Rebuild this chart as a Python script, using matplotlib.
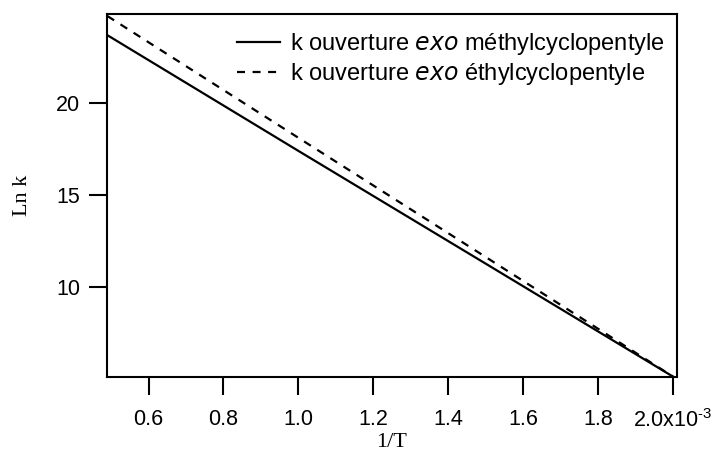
import numpy as np
import matplotlib.pyplot as plt

plt.rcParams['font.family'] = ['Liberation Sans', 'DejaVu Sans']
plt.rcParams['mathtext.default'] = 'regular'

# 1/T (K^-1) et ln k
inv_T = [0.49e-3, 1.0e-3, 1.5e-3, 2.0e-3]
ln_k_methyl = [23.68, 17.40, 11.28, 5.15]
ln_k_ethyl = [24.72, 18.11, 11.64, 5.15]

xticks = [0.6e-3, 0.8e-3, 1.0e-3, 1.2e-3, 1.4e-3, 1.6e-3, 1.8e-3, 2.0e-3]
xticklabels = ['0.6', '0.8', '1.0', '1.2', '1.4', '1.6', '1.8', '2.0x10$^{\u20103}$']
yticks = [10, 15, 20]

fig = plt.figure(figsize=(7.17, 4.54), dpi=100)
ax = fig.add_axes([0.1492, 0.1696, 0.795, 0.7996])

ax.plot(inv_T, ln_k_methyl, color='black', lw=1.6,
        label='k ouverture $\\it{exo}$ méthylcyclopentyle')
ax.plot(inv_T, ln_k_ethyl, color='black', lw=1.6, linestyle=(0, (3.6, 3.4)),
        label='k ouverture $\\it{exo}$ éthylcyclopentyle')

ax.set_xlim(0.489e-3, 2.0106e-3)
ax.set_ylim(5.13, 24.83)
ax.set_xticks(xticks)
ax.set_xticklabels(xticklabels)
ax.set_yticks(yticks)
ax.tick_params(direction='out', length=13, width=1.5, labelsize=15.5, pad=6.5)
ax.tick_params(axis='x', pad=10)
for s in ax.spines.values():
    s.set_linewidth(1.5)

ax.set_xlabel('1/T', family='Liberation Serif', fontsize=16, labelpad=0.5)
ax.set_ylabel('Ln k', family='Liberation Serif', fontsize=16, labelpad=17)

ax.legend(loc='upper right', bbox_to_anchor=(1.0, 0.985), frameon=False,
          fontsize=17, handlelength=1.86, handletextpad=0.42,
          borderaxespad=0.1, labelspacing=0.16)

fig.savefig('out.png', dpi=100)
